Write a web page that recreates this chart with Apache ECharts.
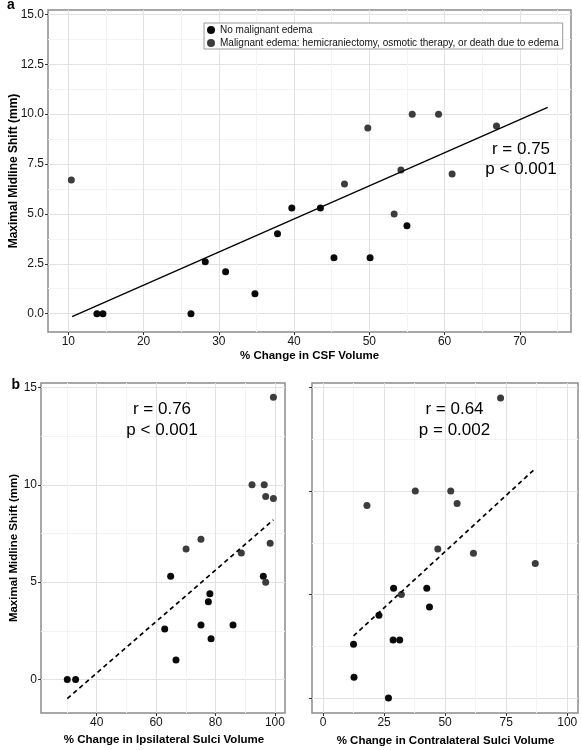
<!DOCTYPE html>
<html><head><meta charset="utf-8">
<script src="https://cdn.jsdelivr.net/npm/echarts@6/dist/echarts.min.js"></script>
<style>html,body{margin:0;padding:0;background:#fff}#c{width:581px;height:750px}</style>
</head><body><div id="c"></div>
<script>
const seriesNames = ['No malignant edema', 'Malignant edema: hemicraniectomy, osmotic therapy, or death due to edema'];

// Panel a: % change in CSF volume vs maximal midline shift (mm)
const aNoEdema = [[13.8,0],[14.6,0],[26.3,0],[28.2,2.6],[30.9,2.1],[34.8,1.0],[37.8,4.0],[39.7,5.3],[43.5,5.3],[45.3,2.8],[50.1,2.8],[55.0,4.4]];
const aEdema = [[10.4,6.7],[46.7,6.5],[49.8,9.3],[53.3,5.0],[54.2,7.2],[55.7,10.0],[59.2,10.0],[61.0,7.0],[66.9,9.4]];
const aFit = [[10.5,-0.15],[73.7,10.34]];

// Panel b (left): % change in ipsilateral sulci volume
const bLNoEdema = [[30.1,0],[32.9,0],[66.7,1.0],[78.5,2.1],[62.9,2.6],[75.1,2.8],[85.9,2.8],[77.6,4.0],[78.1,4.4],[64.9,5.3],[96.1,5.3]];
const bLEdema = [[96.9,5.0],[88.7,6.5],[70.1,6.7],[98.4,7.0],[75.1,7.2],[99.5,9.3],[96.9,9.4],[92.3,10.0],[96.4,10.0],[99.5,14.5]];
const bLFit = [[30.1,-0.98],[99.5,8.2]];

// Panel b (right): % change in contralateral sulci volume
const bRNoEdema = [[26.8,0],[12.7,1.0],[12.5,2.6],[28.7,2.8],[31.4,2.8],[22.9,4.0],[43.6,4.4],[28.9,5.3],[42.5,5.3]];
const bREdema = [[32.1,5.0],[86.9,6.5],[61.6,7.0],[47.0,7.2],[18.0,9.3],[54.9,9.4],[37.8,10.0],[52.3,10.0],[72.7,14.5]];
const bRFit = [[12.5,3.0],[87.0,11.1]];

// Tick values
const aXTicks = [10,20,30,40,50,60,70];
const aXMinor = [15,25,35,45,55,65,75];
const aYTicks = [0,2.5,5,7.5,10,12.5,15];
const aYMinor = [1.25,3.75,6.25,8.75,11.25,13.75];
const bLXTicks = [40,60,80,100];
const bLXMinor = [30,50,70,90];
const bRXTicks = [0,25,50,75,100];
const bRXMinor = [12.5,37.5,62.5,87.5];
const bYTicks = [0,5,10,15];
const bYMinor = [2.5,7.5,12.5];

const stats = {a:['r = 0.75','p < 0.001'], bL:['r = 0.76','p < 0.001'], bR:['r = 0.64','p = 0.002']};
const titles = {aY:'Maximal Midline Shift (mm)', aX:'% Change in CSF Volume', bY:'Maximal Midline Shift (mm)', bLX:'% Change in Ipsilateral Sulci Volume', bRX:'% Change in Contralateral Sulci Volume'};

const FONT = '"Liberation Sans", Arial, Helvetica, sans-serif';
const BLACK = '#0a0a0a', GRAY = '#3c3c3c';

function mainAxis(gridIndex, min, max, ticks, fmt, showLabels, pos) {
  return {
    type:'value', gridIndex, min, max, position:pos,
    axisLine:{show:false, onZero:false},
    axisTick:{show:true, length:3, inside:false, lineStyle:{color:'#333', width:1}, customValues:ticks},
    axisLabel:{show:showLabels, customValues:ticks, formatter:fmt, color:'#151515', fontSize:12, fontFamily:FONT, margin:4},
    splitLine:{show:true, lineStyle:{color:'#e2e2e2', width:1}},
    minorSplitLine:{show:false}
  };
}
function minorAxis(gridIndex, min, max, ticks, pos) {
  return {
    type:'value', gridIndex, min, max, position:pos,
    axisLine:{show:false, onZero:false},
    axisTick:{show:false, customValues:ticks},
    axisLabel:{show:false, customValues:ticks},
    splitLine:{show:true, lineStyle:{color:'#f3f3f3', width:1}}
  };
}
function scatter(name, data, xi, yi, color, size) {
  return {type:'scatter', name, data, xAxisIndex:xi, yAxisIndex:yi, symbolSize:size, itemStyle:{color, opacity:1}, z:3, silent:true};
}
function fit(data, xi, yi, dashed) {
  return {type:'line', data, xAxisIndex:xi, yAxisIndex:yi, symbol:'none', silent:true, z:4,
    lineStyle:{color:'#000', width:dashed?1.7:1.3, type:dashed?[4.5,3.5]:'solid'}};
}
function txt(text, x, y, size, bold, rot, align) {
  return {type:'text', x, y, rotation:rot||0, silent:true, z:10,
    style:{text, fontSize:size, fontWeight:bold?'bold':'normal', fontFamily:FONT, fill:'#000', align:align||'center', verticalAlign:'middle'}};
}

const f1 = v => v.toFixed(1);
const f0 = v => String(v);

const chart = echarts.init(document.getElementById('c'), null, {renderer:'canvas'});
chart.setOption({
  animation:false,
  backgroundColor:'#fff',
  grid:[
    {left:48, top:10, width:523, height:322, show:true, borderColor:'#8c8c8c', borderWidth:1.5, backgroundColor:'#fff'},
    {left:41, top:383, width:244, height:330, show:true, borderColor:'#8c8c8c', borderWidth:1.5, backgroundColor:'#fff'},
    {left:312, top:383, width:266, height:330, show:true, borderColor:'#8c8c8c', borderWidth:1.5, backgroundColor:'#fff'}
  ],
  xAxis:[
    mainAxis(0, 7.3, 76.8, aXTicks, f0, true, 'bottom'),
    minorAxis(0, 7.3, 76.8, aXMinor, 'top'),
    mainAxis(1, 21.25, 103.4, bLXTicks, f0, true, 'bottom'),
    minorAxis(1, 21.25, 103.4, bLXMinor, 'top'),
    mainAxis(2, -4.5, 104.4, bRXTicks, f0, true, 'bottom'),
    minorAxis(2, -4.5, 104.4, bRXMinor, 'top')
  ],
  yAxis:[
    mainAxis(0, -0.92, 15.22, aYTicks, f1, true, 'left'),
    minorAxis(0, -0.92, 15.22, aYMinor, 'right'),
    mainAxis(1, -1.72, 15.23, bYTicks, f0, true, 'left'),
    minorAxis(1, -1.72, 15.23, bYMinor, 'right'),
    mainAxis(2, -0.725, 15.225, bYTicks, f0, false, 'left'),
    minorAxis(2, -0.725, 15.225, bYMinor, 'right')
  ],
  legend:{
    data:seriesNames, orient:'vertical', left:204, top:23, itemWidth:8, itemHeight:8, itemGap:1,
    icon:'circle', padding:[1,4,0,3], borderColor:'#9a9a9a', borderWidth:1, backgroundColor:'#fff',
    selectedMode:false, textStyle:{fontSize:10, lineHeight:12, color:'#111', fontFamily:FONT}
  },
  series:[
    scatter(seriesNames[0], aNoEdema, 0, 0, BLACK, 7),
    scatter(seriesNames[1], aEdema, 0, 0, GRAY, 7),
    fit(aFit, 0, 0, false),
    scatter(seriesNames[0], bLNoEdema, 2, 2, BLACK, 7),
    scatter(seriesNames[1], bLEdema, 2, 2, GRAY, 7),
    fit(bLFit, 2, 2, true),
    scatter(seriesNames[0], bRNoEdema, 4, 4, BLACK, 7),
    scatter(seriesNames[1], bREdema, 4, 4, GRAY, 7),
    fit(bRFit, 4, 4, true)
  ],
  graphic:[
    txt('a', 7, 5.5, 14, true, 0, 'left'),
    txt('b', 11.5, 385, 14, true, 0, 'left'),
    txt(titles.aY, 14, 171, 12, true, Math.PI/2),
    txt(titles.aX, 309.5, 355.5, 11.5, true),
    txt(titles.bY, 14, 548, 11.5, true, Math.PI/2),
    txt(titles.bLX, 164, 739.5, 11.5, true),
    txt(titles.bRX, 445.5, 741, 11.5, true),
    txt(stats.a[0], 521, 149, 17, false),
    txt(stats.a[1], 521, 169, 17, false),
    txt(stats.bL[0], 162, 409, 17, false),
    txt(stats.bL[1], 162, 430, 17, false),
    txt(stats.bR[0], 454.5, 409, 17, false),
    txt(stats.bR[1], 454.5, 430, 17, false)
  ]
});
</script></body></html>
